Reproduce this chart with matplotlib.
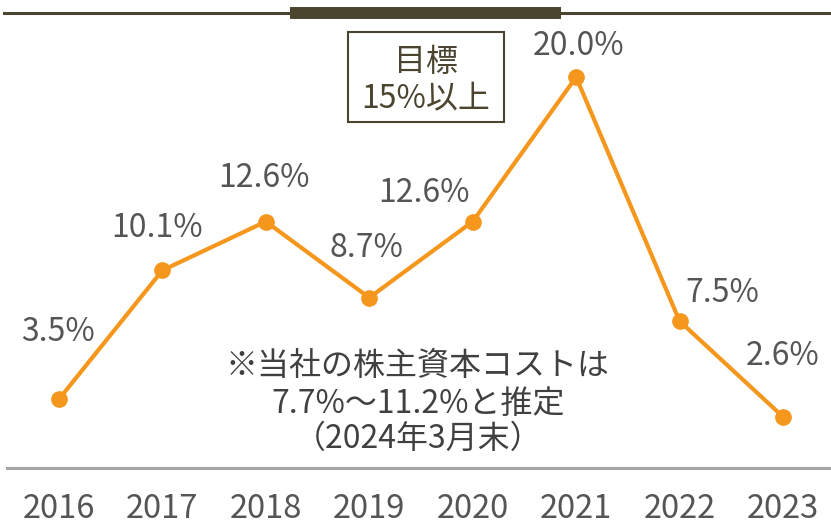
import matplotlib
matplotlib.use("Agg")
from matplotlib import pyplot as plt
from matplotlib.patches import Rectangle

plt.rcParams['font.family'] = ['Noto Sans CJK JP', 'DejaVu Sans']

# ROE by fiscal year
years = ['2016', '2017', '2018', '2019', '2020', '2021', '2022', '2023']
roe = [3.5, 10.1, 12.6, 8.7, 12.6, 20.0, 7.5, 2.6]
value_labels = [f'{v:.1f}%' for v in roe]
target_text = ['目標', '15%以上']
note_text = ['※当社の株主資本コストは', '7.7%～11.2%と推定', '（2024年3月末）']

ORANGE = '#F5971D'
OLIVE = '#4B442F'
LABEL_GRAY = '#555555'

W, H = 831, 524
fig = plt.figure(figsize=(W / 100, H / 100), dpi=100)
ax = fig.add_axes([0, 56.5 / H, 1, 467.5 / H])
ax.set_xlim(-0.570, 7.464)
ax.set_ylim(0, 23.95)
ax.axis('off')

xs = list(range(len(years)))
ax.plot(xs, roe, color=ORANGE, lw=3, marker='o', markersize=11, zorder=3,
        solid_capstyle='round')

# label offsets in pixels (dx, dy to text baseline)
offsets = [(-1, 58), (-5, 33), (-2, 35), (-3, 41), (-49, 20), (2, 22), (43, 19), (0, 52)]
for x, v, lab, (dx, dy) in zip(xs, roe, value_labels, offsets):
    ax.annotate(lab, (x, v), xytext=(dx, dy), textcoords='offset pixels',
                ha='center', va='baseline', fontsize=23, color=LABEL_GRAY)

# year labels under the baseline
for x, yr in zip(xs, years):
    ax.annotate(yr, (x, 0), xytext=(0, -51), textcoords='offset pixels',
                ha='center', va='baseline', fontsize=23.5, color=LABEL_GRAY,
                annotation_clip=False)

# baseline and top rule
ax.axhline(0, xmin=7 / W, xmax=1, color='#A6A6A6', lw=2.2, clip_on=False)
ax.axhline(23.26, xmin=4 / W, xmax=1, color=OLIVE, lw=2.2, clip_on=False)
ax.axhline(23.28, xmin=290 / W, xmax=561 / W, color=OLIVE, lw=8.6,
           solid_capstyle='butt', clip_on=False)

# target box
fig.patches.append(Rectangle((348 / W, (H - 122) / H), 156 / W, 90 / H,
                             transform=fig.transFigure, fill=False,
                             ec=OLIVE, lw=1.5))
for line, base in zip(target_text, [71, 108]):
    fig.text(426 / W, (H - base) / H, line, ha='center', va='baseline',
             fontsize=23, color=OLIVE)

# cost of equity note
for line, base in zip(note_text, [375, 413, 448]):
    fig.text(418 / W, (H - base) / H, line, ha='center', va='baseline',
             fontsize=23, color='#404040')

fig.savefig('out.png', dpi=100)
